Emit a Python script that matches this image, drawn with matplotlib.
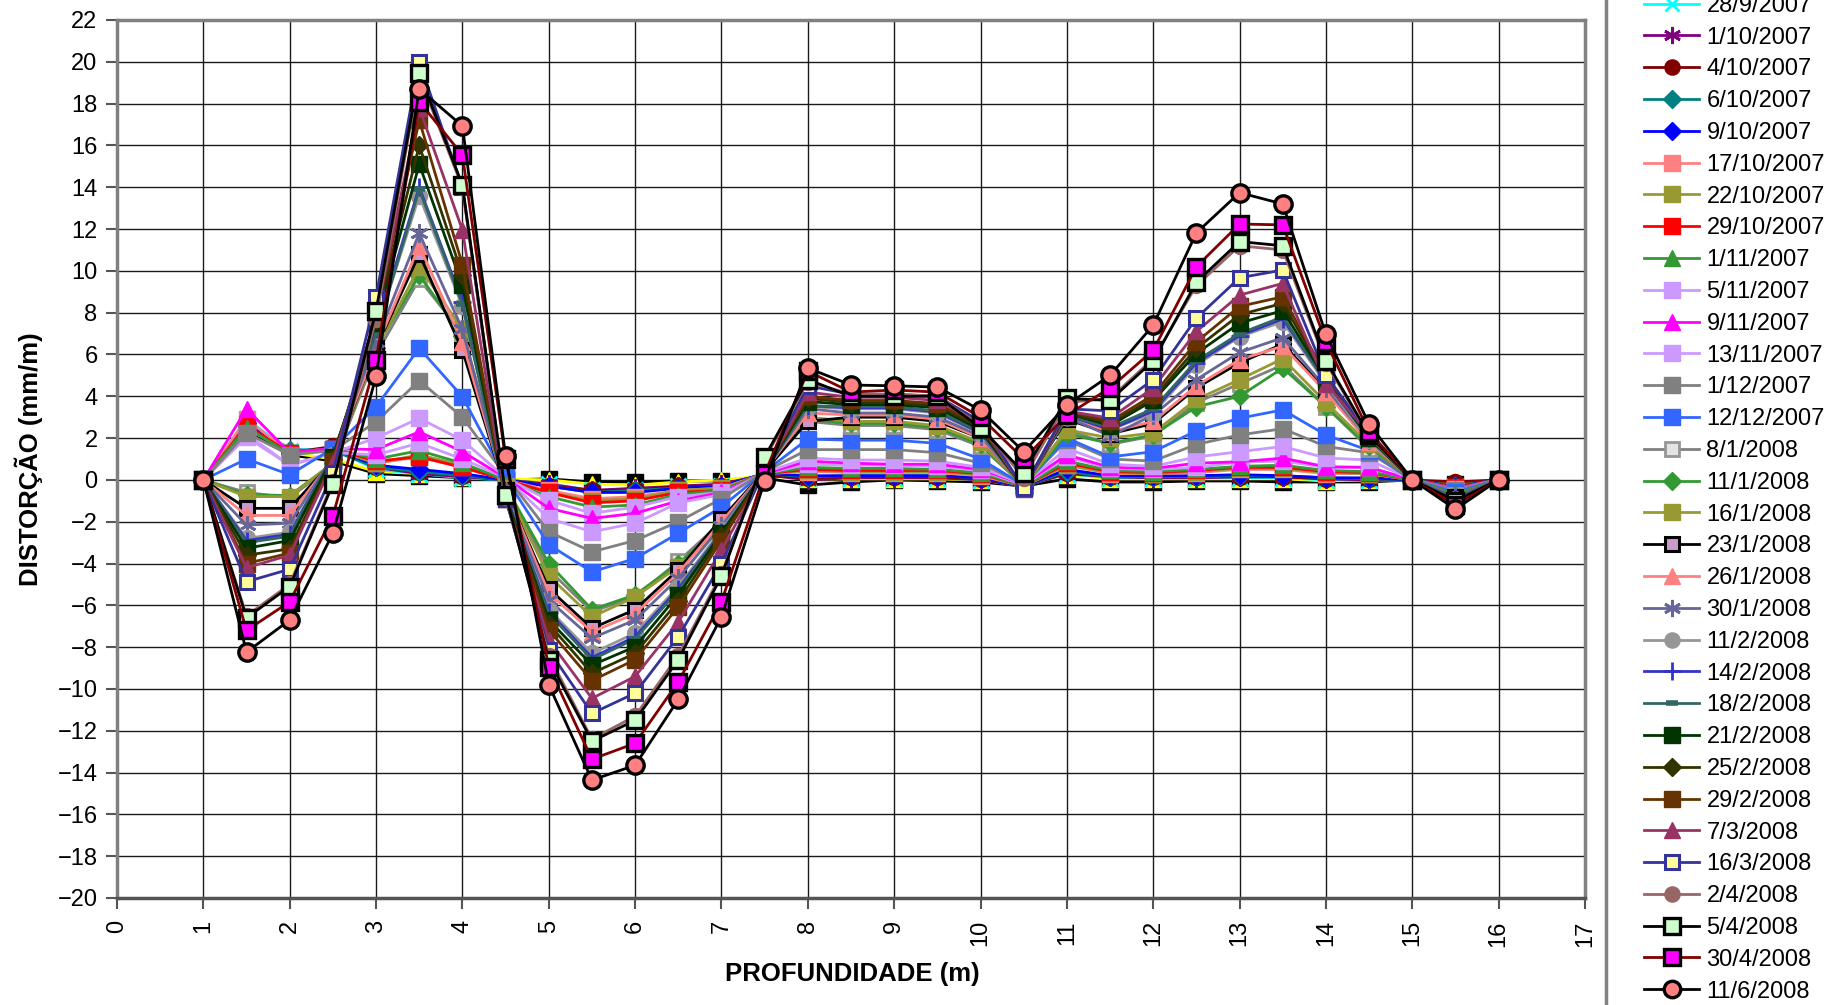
import matplotlib
matplotlib.use("Agg")
import matplotlib.pyplot as plt
from matplotlib.lines import Line2D

plt.rcParams['font.family'] = ['Liberation Sans', 'DejaVu Sans']

# Depth of each reading (m)
depths = [1.0, 1.5, 2.0, 2.5, 3.0, 3.5, 4.0, 4.5, 5.0, 5.5, 6.0, 6.5, 7.0, 7.5,
          8.0, 8.5, 9.0, 9.5, 10.0, 10.5, 11.0, 11.5, 12.0, 12.5, 13.0, 13.5,
          14.0, 14.5, 15.0, 15.5, 16.0]

# Earlier readings (their legend rows sit above the visible part of the key)
earlier_a = [0, 2.3, 1.2, 0.9, 0.3, 0.2, 0.1, 0.0, 0.05, -0.1, -0.1, -0.05, -0.05, 0.1, -0.25,
             -0.1, 0.0, -0.05, -0.1, -0.3, 0.05, -0.1, -0.1, -0.05, -0.05, -0.1, -0.1, -0.1, 0, -0.2, 0]
earlier_b = [0, 2.6, 1.3, 1.0, 0.4, 0.3, 0.15, 0.05, 0.0, -0.2, -0.25, -0.1, 0.0, 0.2, 0.05,
             0.05, 0.05, 0.05, 0.0, -0.2, 0.25, 0.05, 0.05, 0.05, 0.05, 0.05, -0.05, 0.0, 0, -0.2, 0]

# Distortion readings (mm/m) per date
d_28_09_2007 = [0, 2.9, 1.4, 1.5, 0.5, 0.3, 0.1, 0.0, -0.2, -0.5, -0.5, -0.3, -0.3, 0.2, 0.1,
                0.1, 0.1, 0.1, 0.0, -0.3, 0.3, 0.1, 0.1, 0.1, 0.1, 0.1, 0.0, 0.0, 0, -0.3, 0]
d_01_10_2007 = [0, 2.8, 1.35, 1.5, 0.6, 0.3, 0.15, 0.0, -0.2, -0.5, -0.4, -0.3, -0.2, 0.25, 0.0,
                0.1, 0.1, 0.1, 0.0, -0.3, 0.3, 0.15, 0.1, 0.1, 0.15, 0.15, 0.05, 0.0, 0, -0.3, 0]
d_04_10_2007 = [0, 2.7, 1.3, 1.6, 0.6, 0.4, 0.2, 0.0, -0.3, -0.5, -0.5, -0.3, -0.3, 0.2, 0.1,
                0.15, 0.15, 0.15, 0.05, -0.3, 0.35, 0.15, 0.15, 0.15, 0.15, 0.15, 0.05, 0.05, 0, -0.1, 0]
d_06_10_2007 = [0, 2.6, 1.45, 1.4, 0.6, 0.4, 0.2, 0.0, -0.3, -0.6, -0.5, -0.4, -0.3, 0.3, 0.15,
                0.2, 0.2, 0.2, 0.1, -0.3, 0.4, 0.15, 0.15, 0.15, 0.2, 0.2, 0.1, 0.05, 0, -0.3, 0]
d_09_10_2007 = [0, 2.7, 1.3, 1.5, 0.7, 0.5, 0.3, 0.0, -0.3, -0.6, -0.6, -0.4, -0.3, 0.3, 0.2,
                0.2, 0.2, 0.2, 0.1, -0.3, 0.5, 0.2, 0.2, 0.2, 0.25, 0.2, 0.1, 0.1, 0, -0.35, 0]
d_17_10_2007 = [0, 2.9, 1.3, 1.5, 0.8, 1.1, 0.6, 0.0, -0.5, -0.9, -0.8, -0.5, -0.4, 0.3, 0.4,
                0.35, 0.35, 0.35, 0.2, -0.3, 0.7, 0.3, 0.3, 0.35, 0.5, 0.5, 0.3, 0.3, 0, -0.4, 0]
d_22_10_2007 = [0, 2.5, 1.3, 1.5, 0.8, 1.2, 0.7, 0.0, -0.6, -1.0, -0.9, -0.5, -0.4, 0.3, 0.45,
                0.4, 0.4, 0.4, 0.25, -0.3, 0.7, 0.35, 0.3, 0.4, 0.55, 0.55, 0.35, 0.3, 0, -0.4, 0]
d_29_10_2007 = [0, 2.6, 1.3, 1.5, 0.9, 1.1, 0.6, 0.0, -0.6, -1.1, -1.0, -0.6, -0.5, 0.3, 0.5,
                0.45, 0.45, 0.45, 0.3, -0.3, 0.8, 0.4, 0.35, 0.45, 0.6, 0.6, 0.4, 0.35, 0, -0.4, 0]
d_01_11_2007 = [0, 2.5, 1.25, 1.5, 1.0, 1.4, 0.8, 0.0, -0.8, -1.3, -1.2, -0.7, -0.5, 0.3, 0.6,
                0.55, 0.55, 0.5, 0.35, -0.3, 0.9, 0.45, 0.4, 0.5, 0.65, 0.7, 0.45, 0.4, 0, -0.45, 0]
d_05_11_2007 = [0, 2.2, 0.7, 1.3, 1.2, 1.76, 1.0, 0.1, -0.97, -1.6, -1.3, -0.8, -0.6, 0.3, 0.75,
                0.7, 0.7, 0.65, 0.45, -0.25, 1.1, 0.55, 0.5, 0.6, 0.85, 0.9, 0.6, 0.6, 0, -0.45, 0]
d_09_11_2007 = [0, 3.4, 1.3, 1.5, 1.45, 2.3, 1.35, 0.1, -1.36, -1.84, -1.6, -1.0, -0.6, 0.3, 0.9,
                0.8, 0.75, 0.75, 0.5, -0.2, 1.2, 0.6, 0.55, 0.8, 0.87, 1.04, 0.63, 0.6, 0, -0.45, 0]
d_13_11_2007 = [0, 2.05, 0.7, 1.3, 2.0, 2.95, 1.9, 0.1, -1.84, -2.48, -2.07, -1.1, -0.7, 0.35, 1.05,
                0.95, 0.95, 0.9, 0.6, -0.2, 1.5, 0.75, 0.65, 1.1, 1.35, 1.6, 1.05, 0.95, 0, -0.5, 0]
d_01_12_2007 = [0, 2.24, 1.2, 1.4, 2.78, 4.75, 3.0, 0.2, -2.48, -3.44, -2.9, -2.0, -0.9, 0.4, 1.45,
                1.45, 1.45, 1.3, 0.8, -0.2, 1.9, 1.0, 0.9, 1.7, 2.15, 2.45, 1.6, 1.3, 0, -0.5, 0]
d_12_12_2007 = [0, 1.0, 0.25, 1.5, 3.5, 6.3, 3.98, 0.1, -3.1, -4.4, -3.76, -2.55, -1.3, 0.4, 1.95,
                1.9, 1.9, 1.75, 1.0, -0.25, 2.0, 1.1, 1.35, 2.35, 2.95, 3.35, 2.15, 1.4, 0, -0.6, 0]
d_08_01_2008 = [0, -0.6, -0.85, 0.7, 6.0, 9.6, 7.0, -0.3, -4.3, -6.3, -5.6, -3.9, -2.0, 0.5, 2.8,
                2.6, 2.6, 2.4, 1.6, -0.25, 2.4, 1.7, 2.1, 3.7, 4.6, 5.5, 3.5, 1.5, 0, -0.7, 0]
d_11_01_2008 = [0, -0.7, -0.75, 0.8, 6.3, 9.8, 6.9, -0.3, -4.0, -6.2, -5.5, -4.0, -2.2, 0.5, 2.9,
                2.7, 2.7, 2.5, 1.7, -0.3, 2.2, 1.75, 2.15, 3.5, 4.0, 5.35, 3.5, 1.6, 0, -0.7, 0]
d_16_01_2008 = [0, -0.8, -0.8, 0.8, 6.2, 10.2, 7.2, -0.4, -4.6, -6.55, -5.6, -4.15, -2.4, 0.5, 3.0,
                2.8, 2.8, 2.6, 1.8, -0.3, 2.4, 2.0, 2.25, 3.85, 4.8, 5.8, 3.7, 1.7, 0, -0.8, 0]
d_23_01_2008 = [0, -1.36, -1.36, 0.9, 6.3, 10.8, 6.2, -0.5, -5.2, -7.1, -6.2, -4.3, -1.85, 0.4, 2.8,
                3.0, 3.0, 2.8, 2.0, -0.3, 2.9, 2.2, 2.7, 4.4, 5.6, 6.5, 4.3, 1.8, 0, -0.8, 0]
d_26_01_2008 = [0, -1.7, -1.7, 1.0, 6.3, 11.2, 6.6, -0.5, -5.4, -7.27, -6.4, -4.46, -2.0, 0.4, 3.2,
                3.1, 3.1, 2.9, 2.0, -0.3, 3.0, 2.3, 2.8, 4.5, 5.75, 6.4, 4.2, 1.8, 0, -0.8, 0]
d_30_01_2008 = [0, -2.16, -2.07, 1.1, 6.6, 11.8, 7.2, -0.6, -5.75, -7.57, -6.7, -4.7, -2.2, 0.4, 3.4,
                3.2, 3.2, 3.0, 2.1, -0.3, 3.0, 2.1, 3.1, 4.8, 6.1, 6.8, 4.4, 1.9, 0, -0.8, 0]
d_11_02_2008 = [0, -2.8, -2.5, 1.2, 7.1, 13.6, 8.3, -0.7, -6.2, -8.3, -7.33, -5.1, -2.4, 0.4, 3.5,
                3.4, 3.4, 3.2, 2.2, -0.3, 3.1, 2.4, 3.2, 5.5, 6.85, 7.57, 4.6, 1.9, 0, -0.9, 0]
d_14_02_2008 = [0, -2.9, -2.6, 1.2, 7.2, 14.0, 8.5, -0.7, -6.3, -8.5, -7.5, -5.2, -2.5, 0.4, 3.55,
                3.45, 3.45, 3.25, 2.25, -0.3, 3.1, 2.4, 3.3, 5.6, 6.9, 7.7, 4.7, 2.0, 0, -0.9, 0]
d_18_02_2008 = [0, -3.0, -2.7, 1.2, 7.0, 13.9, 8.4, -0.8, -6.4, -8.6, -7.6, -5.3, -2.5, 0.4, 3.55,
                3.5, 3.5, 3.3, 2.3, -0.35, 3.1, 2.5, 3.4, 5.7, 7.0, 7.8, 4.7, 2.0, 0, -0.9, 0]
d_21_02_2008 = [0, -3.27, -2.9, 1.1, 7.5, 15.1, 9.3, -0.8, -6.7, -8.86, -7.98, -5.5, -2.55, 0.4, 3.75,
                3.6, 3.6, 3.45, 2.4, -0.4, 3.2, 2.6, 3.8, 6.05, 7.5, 8.1, 4.8, 2.0, 0, -1.0, 0]
d_25_02_2008 = [0, -3.6, -3.3, 1.0, 7.7, 16.0, 9.8, -0.8, -6.9, -9.25, -8.3, -5.8, -2.7, 0.4, 3.9,
                3.7, 3.7, 3.55, 2.5, -0.4, 3.2, 2.7, 3.9, 6.3, 7.9, 8.45, 4.9, 2.1, 0, -1.0, 0]
d_29_02_2008 = [0, -4.0, -3.5, 0.9, 7.8, 17.2, 10.3, -0.9, -7.18, -9.6, -8.6, -6.07, -2.9, 0.4, 4.0,
                3.8, 3.8, 3.65, 2.6, -0.4, 3.3, 2.8, 4.06, 6.6, 8.3, 8.76, 5.0, 2.1, 0, -1.0, 0]
d_07_03_2008 = [0, -4.2, -3.6, 0.8, 7.9, 17.8, 11.95, -0.9, -7.66, -10.45, -9.4, -6.8, -3.36, 0.4, 4.2,
                3.95, 3.95, 3.8, 2.7, -0.45, 3.3, 2.95, 4.4, 7.1, 8.84, 9.4, 4.6, 2.2, 0, -1.0, 0]
d_16_03_2008 = [0, -4.87, -4.27, 0.33, 8.76, 20.0, 14.0, -0.9, -8.14, -11.17, -10.2, -7.5, -4.0, 0.5, 4.5,
                4.1, 4.1, 4.0, 2.8, -0.4, 3.4, 3.3, 4.8, 7.74, 9.67, 10.04, 5.0, 2.2, 0, -1.1, 0]
d_02_04_2008 = [0, -6.5, -5.0, -0.1, 7.7, 19.3, 14.0, -0.8, -8.4, -12.4, -11.3, -8.4, -4.5, 1.0, 4.7,
                4.1, 4.1, 4.0, 2.6, 0.1, 3.7, 3.9, 5.8, 9.3, 11.2, 11.0, 5.6, 2.1, 0, -1.0, 0]
d_05_04_2008 = [0, -6.6, -5.1, -0.2, 8.1, 19.45, 14.1, -0.7, -8.6, -12.5, -11.5, -8.6, -4.6, 1.1, 4.8,
                4.0, 4.0, 4.0, 2.5, 0.35, 3.9, 3.8, 5.7, 9.46, 11.4, 11.2, 5.7, 2.15, 0, -1.0, 0]
d_30_04_2008 = [0, -7.2, -5.83, -1.73, 5.74, 18.1, 15.54, 1.0, -8.94, -13.36, -12.6, -9.66, -5.83, 0.3, 5.2,
                4.2, 4.3, 4.2, 3.0, 1.0, 3.1, 4.4, 6.2, 10.2, 12.24, 12.2, 6.6, 2.3, 0, -1.2, 0]
d_11_06_2008 = [0, -8.24, -6.7, -2.55, 4.95, 18.7, 16.93, 1.14, -9.8, -14.36, -13.65, -10.5, -6.55, -0.05, 5.35,
                4.54, 4.5, 4.44, 3.34, 1.35, 3.58, 5.0, 7.4, 11.82, 13.74, 13.2, 6.96, 2.67, 0, -1.4, 0]

dates = ['28/9/2007', '1/10/2007', '4/10/2007', '6/10/2007', '9/10/2007', '17/10/2007',
         '22/10/2007', '29/10/2007', '1/11/2007', '5/11/2007', '9/11/2007', '13/11/2007',
         '1/12/2007', '12/12/2007', '8/1/2008', '11/1/2008', '16/1/2008', '23/1/2008',
         '26/1/2008', '30/1/2008', '11/2/2008', '14/2/2008', '18/2/2008', '21/2/2008',
         '25/2/2008', '29/2/2008', '7/3/2008', '16/3/2008', '2/4/2008', '5/4/2008',
         '30/4/2008', '11/6/2008']

readings = [d_28_09_2007, d_01_10_2007, d_04_10_2007, d_06_10_2007, d_09_10_2007,
            d_17_10_2007, d_22_10_2007, d_29_10_2007, d_01_11_2007, d_05_11_2007,
            d_09_11_2007, d_13_11_2007, d_01_12_2007, d_12_12_2007, d_08_01_2008,
            d_11_01_2008, d_16_01_2008, d_23_01_2008, d_26_01_2008, d_30_01_2008,
            d_11_02_2008, d_14_02_2008, d_18_02_2008, d_21_02_2008, d_25_02_2008,
            d_29_02_2008, d_07_03_2008, d_16_03_2008, d_02_04_2008, d_05_04_2008,
            d_30_04_2008, d_11_06_2008]

ASTER = (6, 2, 0)
# (line colour, marker, face colour, edge colour, marker size, edge width)
styles = [
    ('#00FFFF', 'x', '#00FFFF', '#00FFFF', 11, 2.0),
    ('#800080', ASTER, '#800080', '#800080', 13, 2.0),
    ('#800000', 'o', '#800000', '#800000', 11.5, 1.0),
    ('#008080', 'D', '#008080', '#008080', 9.5, 1.0),
    ('#0000FF', 'D', '#0000FF', '#0000FF', 9.5, 1.0),
    ('#FF8080', 's', '#FF8080', '#FF8080', 11.5, 1.0),
    ('#999933', 's', '#999933', '#999933', 11.5, 1.0),
    ('#FF0000', 's', '#FF0000', '#FF0000', 11.5, 1.0),
    ('#339933', '^', '#339933', '#339933', 12, 1.0),
    ('#CC99FF', 's', '#CC99FF', '#CC99FF', 11.5, 1.0),
    ('#FF00FF', '^', '#FF00FF', '#FF00FF', 12, 1.0),
    ('#CC99FF', 's', '#CC99FF', '#CC99FF', 11.5, 1.0),
    ('#808080', 's', '#808080', '#808080', 11.5, 1.0),
    ('#3366FF', 's', '#3366FF', '#3366FF', 11.5, 1.0),
    ('#808080', 's', '#E3E3E3', '#969696', 10.5, 2.0),
    ('#339933', 'D', '#339933', '#339933', 9.5, 1.0),
    ('#999933', 's', '#999933', '#999933', 11.5, 1.0),
    ('#000000', 's', '#CC99CC', '#000000', 10.5, 2.2),
    ('#FF8080', '^', '#FF8080', '#FF8080', 12, 1.0),
    ('#666699', ASTER, '#666699', '#666699', 13, 2.0),
    ('#969696', 'o', '#969696', '#969696', 11.5, 1.0),
    ('#3333CC', '+', '#3333CC', '#3333CC', 13, 2.0),
    ('#336666', '_', '#336666', '#336666', 9, 4.0),
    ('#003300', 's', '#003300', '#003300', 11.5, 1.0),
    ('#333300', 'D', '#333300', '#333300', 9.5, 1.0),
    ('#663300', 's', '#663300', '#663300', 11.5, 1.0),
    ('#993366', '^', '#993366', '#993366', 12, 1.0),
    ('#333399', 's', '#FFFF99', '#333399', 10.5, 2.2),
    ('#996666', 'o', '#996666', '#996666', 11.5, 1.0),
    ('#000000', 's', '#CCFFCC', '#000000', 11.5, 2.4),
    ('#800000', 's', '#FF00FF', '#000000', 11.5, 2.4),
    ('#000000', 'o', '#FF8080', '#000000', 12.5, 2.4),
]

fig = plt.figure(figsize=(18.36, 10.05), dpi=100)
ax = fig.add_axes([117 / 1836, 1 - 898 / 1005, (1585 - 117) / 1836, (898 - 20) / 1005])

ax.plot(depths, earlier_a, color='#000000', lw=2.0, marker='s', ms=11.5,
        mfc='#000000', mec='#000000', label='_nolegend_')
ax.plot(depths, earlier_b, color='#FFFF00', lw=2.0, marker='^', ms=12,
        mfc='#FFFF00', mec='#FFFF00', label='_nolegend_')

handles = []
for date, vals, (lc, mk, fc, ec, ms, mew) in zip(dates, readings, styles):
    h, = ax.plot(depths, vals, color=lc, lw=2.0, marker=mk, ms=ms,
                 mfc=fc, mec=ec, mew=mew, label=date)
    handles.append(h)

ax.set_xlim(0, 17)
ax.set_ylim(-20, 22)
ax.set_xticks(range(0, 18))
ax.set_yticks(range(-20, 23, 2))
ax.grid(True, color='#1a1a1a', lw=1.0)
ax.set_axisbelow(True)
ax.tick_params(axis='both', direction='out', length=8, width=1.5, labelsize=17, color='#555555')
ax.tick_params(axis='x', labelrotation=90, pad=8)
ax.tick_params(axis='y', pad=6)
for side in ('left', 'top', 'right'):
    ax.spines[side].set_color('#808080')
    ax.spines[side].set_linewidth(2.5)
ax.spines['bottom'].set_color('#555555')
ax.spines['bottom'].set_linewidth(2.5)

fig.text(29 / 1836, 1 - 459 / 1005, 'DISTORÇÃO (mm/m)', rotation=90, ha='center',
         va='center', fontsize=18.5, fontweight='bold')
fig.text(852 / 1836, 1 - 974 / 1005, 'PROFUNDIDADE (m)', ha='center', va='center',
         fontsize=18.5, fontweight='bold')

leg = fig.legend(handles=handles, loc='upper left',
                 bbox_to_anchor=(1632 / 1836, 1 + 17 / 1005), bbox_transform=fig.transFigure,
                 frameon=False, fontsize=17, borderpad=0, labelspacing=0.415,
                 handlelength=2.35, handletextpad=0.3, markerscale=0.95)

fig.add_artist(Line2D([1606 / 1836, 1606 / 1836], [0, 1], transform=fig.transFigure,
                      color='#808080', lw=2.5))

fig.savefig('out.png', dpi=100)
